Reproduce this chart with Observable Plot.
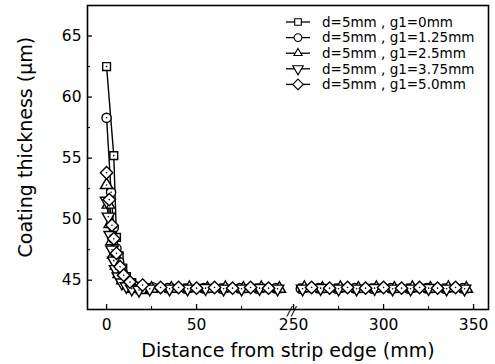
<!DOCTYPE html>
<html>
<head>
<meta charset="utf-8">
<script src="https://cdn.jsdelivr.net/npm/d3@7"></script>
<script src="https://cdn.jsdelivr.net/npm/@observablehq/plot@0.6"></script>
<style>
  html, body { margin: 0; padding: 0; background: #fff; }
  #chart { width: 495px; height: 364px; }
</style>
</head>
<body>
<div id="chart"></div>
<script>
// ---- data ----
const seriesNames = ["d=5mm , g1=0mm", "d=5mm , g1=1.25mm", "d=5mm , g1=2.5mm", "d=5mm , g1=3.75mm", "d=5mm , g1=5.0mm"];

const x0 = [0, 4, 5.5, 7, 9, 11, 14, 18, 24, 35, 45, 55, 65, 75, 85, 95, 255, 265, 275, 285, 295, 305, 315, 325, 335, 345];
const y0 = [62.5, 55.2, 48.5, 47.0, 46.0, 45.3, 44.8, 44.5, 44.4, 44.35, 44.35, 44.3, 44.35, 44.3, 44.35, 44.3, 44.35, 44.3, 44.35, 44.3, 44.35, 44.3, 44.35, 44.3, 44.35, 44.3];

const x1 = [0, 2.5, 4, 5.5, 7, 9, 11.5, 15, 20, 26, 34, 44, 54, 64, 74, 84, 94, 254, 264, 274, 284, 294, 304, 314, 324, 334, 344];
const y1 = [58.3, 52.2, 49.3, 47.6, 46.5, 45.6, 45.0, 44.6, 44.45, 44.4, 44.35, 44.3, 44.35, 44.3, 44.35, 44.3, 44.35, 44.3, 44.35, 44.3, 44.35, 44.3, 44.35, 44.3, 44.35, 44.3, 44.35];

const x2 = [0, 1, 2, 3, 4, 5.5, 7, 9, 12, 15, 20, 25, 36, 46, 56, 66, 76, 86, 96, 256, 266, 276, 286, 296, 306, 316, 326, 336, 346];
const y2 = [52.8, 51.2, 49.6, 48.2, 47.1, 46.2, 45.5, 45.0, 44.6, 44.3, 44.2, 44.3, 44.3, 44.35, 44.3, 44.35, 44.3, 44.35, 44.3, 44.35, 44.3, 44.35, 44.3, 44.35, 44.3, 44.35, 44.3, 44.35, 44.3];

const x3 = [0, 1, 2, 3, 4, 5, 6.5, 8.5, 11, 14, 18, 24, 35, 45, 55, 65, 75, 85, 95, 255, 265, 275, 285, 295, 305, 315, 325, 335, 345];
const y3 = [51.5, 50.2, 48.7, 47.5, 46.6, 45.9, 45.3, 44.8, 44.5, 44.3, 44.2, 44.3, 44.3, 44.3, 44.35, 44.3, 44.3, 44.35, 44.3, 44.3, 44.35, 44.3, 44.3, 44.35, 44.3, 44.3, 44.35, 44.3, 44.3];

const x4 = [0, 1.5, 3, 4, 5.5, 7.5, 9.5, 13, 20, 30, 40, 50, 60, 70, 80, 90, 260, 270, 280, 290, 300, 310, 320, 330, 340];
const y4 = [53.8, 51.6, 49.5, 48.4, 47.2, 46.1, 45.4, 44.85, 44.6, 44.4, 44.4, 44.35, 44.4, 44.35, 44.4, 44.35, 44.4, 44.35, 44.4, 44.35, 44.4, 44.35, 44.4, 44.35, 44.4];

const xTickLabels = [0, 50, 250, 300, 350];
const xMinorTicks = [25, 75, 275, 325];
const yTickLabels = [45, 50, 55, 60, 65];
const yMinorTicks = [47.5, 52.5, 57.5, 62.5, 67.5];

// ---- broken x axis: 0..~102 then 250..~358 ----
const breakLeft = 102, breakRightStart = 250, gapStart = 103.9;
const bx = u => (u <= breakLeft ? u : u - breakRightStart + gapStart);

const triDown = {
  draw(ctx, size) {
    const y = -Math.sqrt(size / (Math.sqrt(3) * 3));
    ctx.moveTo(0, -y * 2);
    ctx.lineTo(-Math.sqrt(3) * y, y);
    ctx.lineTo(Math.sqrt(3) * y, y);
    ctx.closePath();
  }
};
const symbols = ["square", "circle", "triangle", triDown, "diamond2"];
const radii = [4.4, 4.6, 4.6, 4.6, 5.6];

const xsAll = [x0, x1, x2, x3, x4];
const ysAll = [y0, y1, y2, y3, y4];
const series = xsAll.map((xs, i) => xs.map((u, j) => ({
  s: i, u, t: bx(u), v: ysAll[i][j], seg: `${i}-${u <= breakLeft ? 0 : 1}`
})));

const W = 495, H = 364, mL = 87, mR = 7, mT = 5, mB = 55;
const plotW = W - mL - mR, plotH = H - mT - mB;
const font = "DejaVu Sans, Verdana, sans-serif";

const marks = [];
// lines
series.forEach(d => marks.push(Plot.line(d, {x: "t", y: "v", z: "seg", stroke: "black", strokeWidth: 1.4})));
// markers
series.forEach((d, i) => {
  marks.push(Plot.dot(d, {x: "t", y: "v", symbol: () => symbols[i], r: radii[i], fill: "white", stroke: "black", strokeWidth: 1.4}));
  marks.push(Plot.dot(d, {x: "t", y: "v", r: 0.8, fill: "black", stroke: "none"}));
});
// frame and inward ticks
marks.push(Plot.frame({stroke: "black", strokeWidth: 1.6}));
marks.push(Plot.ruleX(xTickLabels, {x: bx, insetTop: plotH - 5, stroke: "black", strokeWidth: 1.3}));
marks.push(Plot.ruleX(xMinorTicks, {x: bx, insetTop: plotH - 3, stroke: "black", strokeWidth: 1}));
marks.push(Plot.ruleY(yTickLabels, {y: d => d, insetRight: plotW - 5, stroke: "black", strokeWidth: 1.3}));
marks.push(Plot.ruleY(yMinorTicks, {y: d => d, insetRight: plotW - 3, stroke: "black", strokeWidth: 1}));
// tick labels
marks.push(Plot.text(xTickLabels, {x: bx, frameAnchor: "bottom", dy: 16, lineAnchor: "middle", text: d => String(d), fontSize: 15.5, fill: "black"}));
marks.push(Plot.text(yTickLabels, {y: d => d, frameAnchor: "left", dx: -6, textAnchor: "end", text: d => String(d), fontSize: 15.5, fill: "black"}));
// break mark
marks.push(Plot.text([breakLeft], {x: d => d + 0.8, frameAnchor: "bottom", dy: 1, lineAnchor: "middle", text: () => "//", fontSize: 13, fontStyle: "italic", fill: "black"}));
// axis titles
marks.push(Plot.text(["Distance from strip edge (mm)"], {frameAnchor: "bottom", dy: 41, lineAnchor: "middle", text: d => d, fontSize: 19, fill: "black"}));
marks.push(Plot.text(["Coating thickness (μm)"], {y: () => 55.9, frameAnchor: "left", dx: -62, textAnchor: "middle", rotate: -90, lineAnchor: "middle", text: d => d, fontSize: 19, fill: "black"}));

const chart = Plot.plot({
  width: W, height: H,
  marginLeft: mL, marginRight: mR, marginTop: mT, marginBottom: mB,
  x: {domain: [-10.6, 212.2], axis: null},
  y: {domain: [42.6, 67.5], axis: null},
  style: {fontFamily: font, background: "white", color: "black"},
  marks
});
document.getElementById("chart").appendChild(chart);

// ---- legend (inside the plot, top right) ----
const svg = d3.select(chart);
const lg = svg.append("g").attr("font-family", font).attr("font-size", 13.5).attr("text-anchor", "start");
seriesNames.forEach((name, i) => {
  const yy = 22 + i * 15.6;
  lg.append("line").attr("x1", 286).attr("x2", 310).attr("y1", yy).attr("y2", yy).attr("stroke", "black").attr("stroke-width", 1.3);
  const sym = typeof symbols[i] === "string"
    ? {square: d3.symbolSquare, circle: d3.symbolCircle, triangle: d3.symbolTriangle2, diamond2: d3.symbolDiamond2}[symbols[i]]
    : symbols[i];
  const r = radii[i] * 0.85;
  lg.append("path").attr("d", d3.symbol(sym, Math.PI * r * r)())
    .attr("transform", `translate(298,${yy})`).attr("fill", "white").attr("stroke", "black").attr("stroke-width", 1.1);
  lg.append("text").attr("x", 322).attr("y", yy).attr("dy", "0.35em").attr("text-anchor", "start").attr("fill", "black").text(name);
});
</script>
</body>
</html>
